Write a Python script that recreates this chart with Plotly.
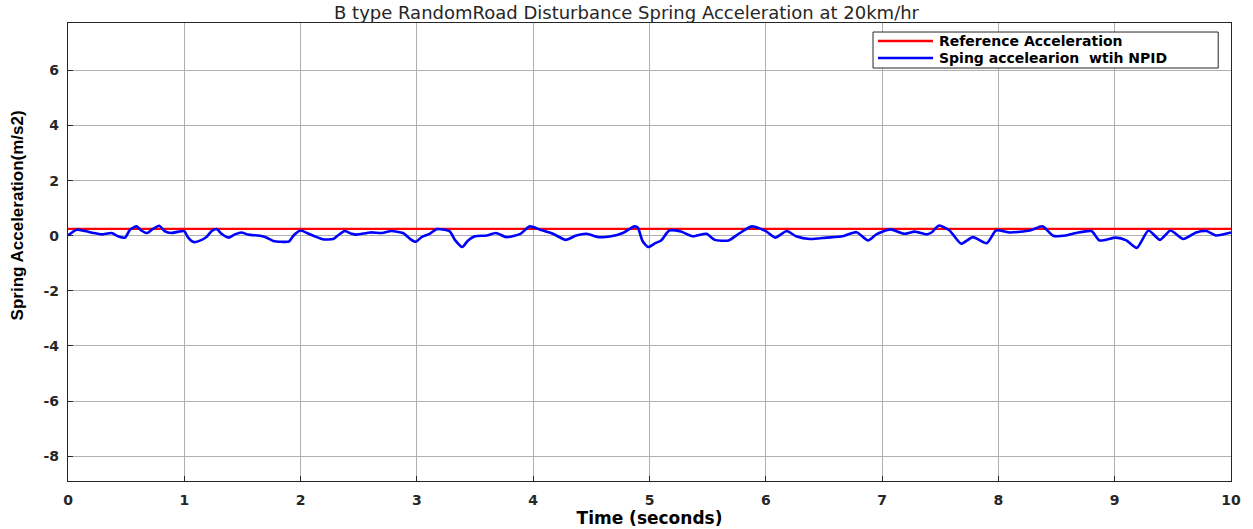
import plotly.graph_objects as go

# Blue series: spring acceleration with NPID
t = [0, 0.074, 0.146, 0.218, 0.29, 0.375, 0.43, 0.49, 0.533, 0.59, 0.63, 0.68, 0.73, 0.785, 0.83, 0.89, 0.95,
     1.0, 1.03, 1.08, 1.15, 1.19, 1.235, 1.28, 1.32, 1.38, 1.435, 1.49, 1.55, 1.65, 1.71, 1.765, 1.84, 1.90, 1.94,
     2.0, 2.07, 2.14, 2.19, 2.28, 2.32, 2.38, 2.44, 2.48, 2.60, 2.70, 2.78, 2.88, 2.94, 2.99,
     3.04, 3.11, 3.17, 3.28, 3.33, 3.39, 3.44, 3.50, 3.60, 3.68, 3.77, 3.89, 3.97,
     4.06, 4.17, 4.28, 4.37, 4.46, 4.56, 4.67, 4.77, 4.87, 4.90, 4.94, 4.99,
     5.05, 5.10, 5.17, 5.27, 5.37, 5.49, 5.56, 5.68, 5.76, 5.88,
     6.00, 6.08, 6.18, 6.26, 6.38, 6.52, 6.66, 6.78, 6.88, 6.95,
     7.07, 7.19, 7.28, 7.38, 7.42, 7.49, 7.58, 7.68, 7.78, 7.90, 7.98,
     8.10, 8.27, 8.38, 8.47, 8.58, 8.67, 8.80, 8.87,
     9.01, 9.10, 9.19, 9.29, 9.39, 9.48, 9.59, 9.70, 9.79, 9.87, 10.0]
accel = [0.01, 0.22, 0.17, 0.10, 0.05, 0.10, -0.02, -0.07, 0.22, 0.34, 0.19, 0.10, 0.25, 0.36, 0.17, 0.10, 0.15,
         0.17, -0.05, -0.23, -0.15, -0.05, 0.17, 0.24, 0.07, -0.07, 0.05, 0.12, 0.04, 0.0, -0.07, -0.19, -0.22, -0.21, 0.01,
         0.19, 0.07, -0.05, -0.13, -0.12, 0.01, 0.17, 0.07, 0.04, 0.12, 0.10, 0.17, 0.10, -0.11, -0.22,
         -0.05, 0.07, 0.24, 0.17, -0.17, -0.41, -0.17, -0.02, 0.01, 0.10, -0.05, 0.07, 0.34,
         0.22, 0.07, -0.15, 0.01, 0.07, -0.05, -0.02, 0.10, 0.34, 0.29, -0.19, -0.41,
         -0.27, -0.17, 0.19, 0.15, -0.02, 0.07, -0.15, -0.17, 0.05, 0.34,
         0.17, -0.07, 0.17, -0.02, -0.12, -0.07, -0.02, 0.13, -0.17, 0.05,
         0.23, 0.07, 0.15, 0.05, 0.10, 0.37, 0.19, -0.29, -0.05, -0.27, 0.19,
         0.12, 0.19, 0.34, 0.0, 0.01, 0.10, 0.17, -0.17,
         -0.07, -0.17, -0.44, 0.19, -0.15, 0.19, -0.12, 0.12, 0.17, 0.01, 0.12]

ref_t = [0, 10]
ref_accel = [0.25, 0.25]

x_ticks = [0, 1, 2, 3, 4, 5, 6, 7, 8, 9, 10]
y_ticks = [-8, -6, -4, -2, 0, 2, 4, 6]

series_names = ["Reference Acceleration", "Sping accelearion  wtih NPID"]
series_colors = ["#ff0000", "#0000ff"]

fig = go.Figure()
fig.add_trace(go.Scatter(x=ref_t, y=ref_accel, mode="lines", name=series_names[0],
                         line=dict(color=series_colors[0], width=2.2), showlegend=False))
fig.add_trace(go.Scatter(x=t, y=accel, mode="lines", name=series_names[1],
                         line=dict(color=series_colors[1], width=2.6, shape="spline", smoothing=0.6),
                         showlegend=False))

tick_font = dict(family="DejaVu Sans", size=14, color="#262626", weight="bold")
axis_common = dict(showline=True, linecolor="#262626", linewidth=1.2, mirror=True,
                   showgrid=True, gridcolor="#b0b0b0", gridwidth=1, zeroline=False,
                   ticks="inside", ticklen=5, tickcolor="#262626", automargin=False,
                   tickfont=tick_font)

# Legend box drawn in paper coordinates (MATLAB-style compact legend)
lx0, lx1, ly0, ly1 = 0.6922, 0.9890, 0.9017, 0.9803
row_y = [0.9607, 0.9236]
shapes = [dict(type="rect", xref="paper", yref="paper", x0=lx0, x1=lx1, y0=ly0, y1=ly1,
               line=dict(color="#262626", width=1), fillcolor="white", layer="above")]
annotations = []
for name, col, ry in zip(series_names, series_colors, row_y):
    shapes.append(dict(type="line", xref="paper", yref="paper", x0=0.6965, x1=0.7438, y0=ry, y1=ry,
                       line=dict(color=col, width=2.5), layer="above"))
    annotations.append(dict(text=name, xref="paper", yref="paper", x=0.7475, y=ry,
                            xanchor="left", yanchor="middle", showarrow=False,
                            font=dict(family="DejaVu Sans", size=14, color="#000000", weight="bold")))

annotations.append(dict(text="Spring Acceleration(m/s2)", xref="paper", yref="paper",
                        x=-0.0438, y=0.58, xanchor="center", yanchor="middle", textangle=-90,
                        showarrow=False,
                        font=dict(family="Liberation Sans", size=17, color="#000000", weight="bold")))

fig.update_layout(
    width=1253, height=529,
    margin=dict(l=68, r=22, t=23, b=48),
    paper_bgcolor="white", plot_bgcolor="white",
    title=dict(text="B type RandomRoad Disturbance Spring Acceleration at 20km/hr",
               x=0.5, xanchor="center", y=0.976, yanchor="middle",
               font=dict(family="DejaVu Sans", size=18, color="#262626")),
    xaxis=dict(range=[0, 10], tickvals=x_ticks, ticktext=[str(v) for v in x_ticks],
               ticklabelstandoff=6,
               title=dict(text="Time (seconds)", standoff=2,
                          font=dict(family="DejaVu Sans", size=17, color="#000000", weight="bold")),
               **axis_common),
    yaxis=dict(range=[-8.9, 7.72], tickvals=y_ticks, ticktext=[str(v) for v in y_ticks],
               ticklabelstandoff=5,
               **axis_common),
    shapes=shapes,
    annotations=annotations,
    showlegend=False,
)

fig.write_html("out.html")
